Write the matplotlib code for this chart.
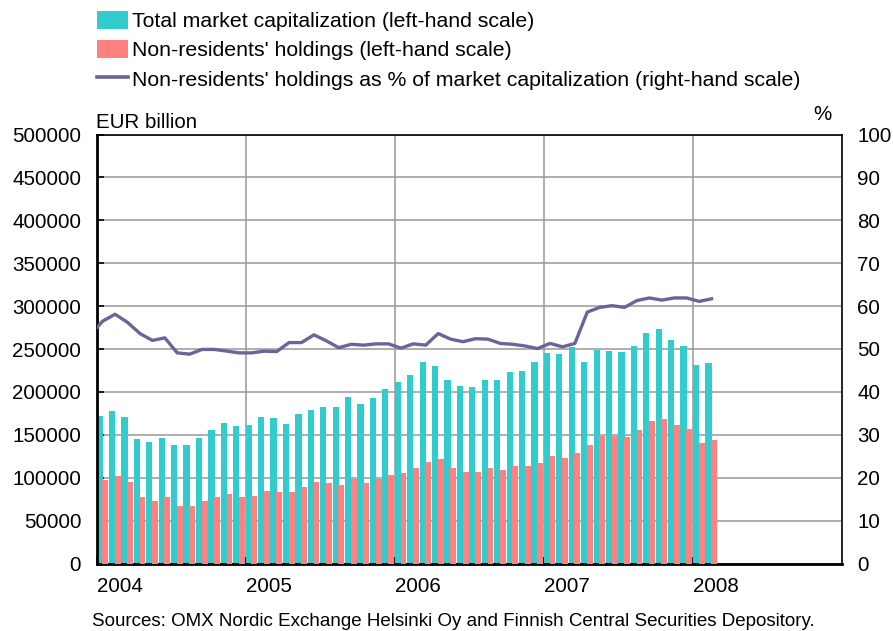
import matplotlib
matplotlib.use("Agg")
import matplotlib.pyplot as plt
import numpy as np
from matplotlib.patches import Patch
from matplotlib.lines import Line2D

plt.rcParams['font.family'] = ['Liberation Sans', 'DejaVu Sans']

# Monthly data Jan 2004 - Feb 2008 (EUR billion as labelled)
total_cap = [171700, 177600, 170600, 145300, 141400, 146800, 137900, 138300, 146400, 155400, 163600, 159700,
             161600, 170600, 169400, 162800, 173700, 178700, 182200, 182200, 193500, 186100, 192400, 203700,
             211000, 220000, 234400, 229800, 213800, 207200, 205200, 213800, 213400, 223500, 224700, 235200,
             244900, 243800, 252700, 235200, 248800, 247700, 246500, 253900, 268700, 273400, 260500, 253500,
             230900, 233600]
nonres = [97000, 102400, 95400, 77500, 73200, 77500, 67400, 67400, 73200, 77500, 81000, 77500,
          79000, 84900, 83700, 83700, 89200, 95000, 94200, 91900, 98900, 94200, 98100, 103600,
          105500, 111800, 118800, 122300, 111000, 107100, 107100, 111000, 109000, 113300, 114100, 117600,
          125000, 123400, 128900, 137900, 149100, 148400, 147200, 155400, 165900, 168200, 161200, 156500,
          141000, 144100]
# Percentage series, Dec 2003 - Feb 2008
share_pct = [53.3,
             56.5, 58.1, 56.2, 53.6, 52.0, 52.6, 49.1, 48.8, 49.9, 49.9, 49.5, 49.1,
             49.1, 49.5, 49.4, 51.5, 51.5, 53.3, 51.9, 50.3, 51.1, 50.9, 51.2, 51.2,
             50.2, 51.2, 50.9, 53.6, 52.3, 51.7, 52.4, 52.3, 51.3, 51.1, 50.7, 50.1,
             51.3, 50.5, 51.3, 58.6, 59.7, 60.1, 59.7, 61.3, 61.9, 61.4, 61.9, 61.9,
             61.1, 61.7]
years = ["2004", "2005", "2006", "2007", "2008"]
left_ticks = [0, 50000, 100000, 150000, 200000, 250000, 300000, 350000, 400000, 450000, 500000]
right_ticks = [0, 10, 20, 30, 40, 50, 60, 70, 80, 90, 100]

teal = "#33CCCC"
pink = "#FF8080"
navy = "#666699"

fig = plt.figure(figsize=(8.93, 6.31), dpi=100)
ax = fig.add_axes([96.5/893, 1-563.5/631, (842-96.5)/893, (563.5-134.5)/631])

x = np.arange(len(total_cap))
ax.bar(x, total_cap, width=0.5, align='edge', color=teal, edgecolor='none', zorder=2)
ax.bar(x + 0.47, nonres, width=0.47, align='edge', color=pink, edgecolor='none', zorder=3)

ax.set_xlim(0, 60)
ax.set_ylim(0, 500000)
ax.set_yticks(left_ticks)
ax.set_yticklabels([str(v) for v in left_ticks], fontsize=14.8)
ax.tick_params(axis='y', direction='in', length=5, width=1.2, pad=11, colors='black')
ax.set_xticks([0, 12, 24, 36, 48])
ax.set_xticklabels(years, fontsize=14.8, ha='left')
ax.tick_params(axis='x', direction='in', length=5, width=1.2, pad=10)
ax.yaxis.grid(True, color='#999999', linewidth=1.1, zorder=0)
ax.xaxis.grid(True, color='#999999', linewidth=1.1, zorder=0)
ax.set_axisbelow(True)
for s in ['top', 'right']:
    ax.spines[s].set_linewidth(1.2)
    ax.spines[s].set_color('black')
for s in ['left', 'bottom']:
    ax.spines[s].set_linewidth(2.0)
    ax.spines[s].set_color('black')

ax2 = ax.twinx()
ax2.set_ylim(0, 100)
ax2.set_yticks(right_ticks)
ax2.set_yticklabels([str(v) for v in right_ticks], fontsize=14.8)
ax2.tick_params(axis='y', length=0, pad=11)
xl = np.arange(len(share_pct)) - 0.5
ax2.plot(xl, share_pct, color=navy, linewidth=2.4, zorder=5, clip_on=True,
         solid_joinstyle='round')
ax2.set_xlim(0, 60)
for s in ax2.spines.values():
    s.set_visible(False)

fig.text(96.5/893, 1-122/631, "EUR billion", fontsize=14.8, va='center', ha='left')
fig.text(822/893, 1-115/631, "%", fontsize=14.8, va='center', ha='center')

handles = [Patch(facecolor=teal, edgecolor='none'),
           Patch(facecolor=pink, edgecolor='none'),
           Line2D([0], [0], color=navy, linewidth=2.6)]
labels = ["Total market capitalization (left-hand scale)",
          "Non-residents' holdings (left-hand scale)",
          "Non-residents' holdings as % of market capitalization (right-hand scale)"]
fig.legend(handles, labels, loc='upper left', bbox_to_anchor=(93/893, 1-7/631),
           frameon=False, fontsize=15.3, handlelength=1.45, handleheight=0.9,
           handletextpad=0.2, labelspacing=0.42, borderaxespad=0, borderpad=0.2)

fig.text(92/893, 1-622/631, "Sources: OMX Nordic Exchange Helsinki Oy and Finnish Central Securities Depository.",
         fontsize=13.5, va='center', ha='left')

fig.savefig("out.png", dpi=100)
